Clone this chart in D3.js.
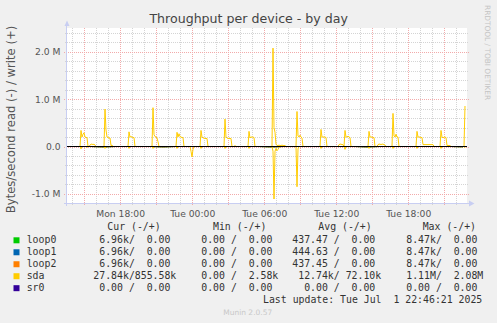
<!DOCTYPE html>
<html>
<head>
<meta charset="utf-8">
<script src="https://cdn.jsdelivr.net/npm/d3@7"></script>
<style>
  body { margin: 0; background: #f0f0f0; }
  svg { display: block; }
</style>
</head>
<body>
<svg id="chart" width="497" height="323"></svg>
<script>
// sda, one sample every 5 minutes, in M bytes/s (write is +, read is plotted as -)
var sdaWrite = [
  0,0,0,0,0,0,0,0,0,0,0,0,0,0,
  0.34,0.2,0.26,0.29,0.2,0.19,0.19,0,0,0.03,0.05,0.05,0.04,0.05,0.03,0,0,0,0,0,0,0,0,0,
  0.79,0.35,0.2,0.19,0.18,0.18,0.02,0.03,0,0,0,0,0,0,0,0,0,0,0,0,0,0,0,0,
  0.31,0.2,0.21,0.2,0.19,0.19,0,0,0,0,0,0,0,0,0,0,0,0,0,0,0,0,0,0,
  0.82,0.25,0.21,0.2,0.18,0.1,0,0,0,0,0,0,0,0,0,0,0,0,0,0,0,0,0,0,
  0.3,0.2,0.27,0.21,0.2,0.19,0.19,0,0,0,0,0,0,0,0,0,0,0,0,0,0,0,0,0,
  0.34,0.2,0.18,0.18,0.17,0.17,0.17,0,0,0,0,0,0,0,0,0,0,0,0,0,0,0,0,0,
  0.58,0.2,0.18,0.17,0.17,0.17,0.17,0,0,0,0.02,0,0,0,0,0,0,0,0,0,0,0,0,0,
  0.32,0.18,0.2,0.2,0.2,0.19,0,0,0,0,0,0,0,0,0,0,0,0,0,0,0,0,0,0,
  2.08,0.4,0.3,0.05,0.02,0.02,0.03,0.02,0.02,0.03,0.02,0.02,0.02,0,0,0,0,0,0,0,0,0,0,0,
  0.74,0.22,0.2,0.24,0.2,0.18,0,0,0,0,0,0,0,0,0,0,0,0,0,0,0,0,0,0,
  0.36,0.2,0.2,0.2,0.2,0.19,0,0,0,0,0,0,0,0,0,0,0,0,0.04,0.05,0.05,0.04,0.04,0,
  0.34,0.2,0.2,0.22,0.2,0.19,0,0,0,0,0,0,0,0,0,0,0,0,0,0,0,0,0,0,
  0.32,0.2,0.2,0.2,0.19,0.19,0,0,0,0.04,0.05,0.05,0.04,0.05,0.05,0.04,0.03,0,0,0,0,0,0,0,
  0.7,0.22,0.2,0.26,0.2,0.2,0,0,0,0,0,0,0,0,0,0,0,0,0,0,0,0,0,0,
  0.32,0.2,0.2,0.2,0.19,0.19,0.04,0.04,0.04,0.04,0.04,0.04,0.04,0.04,0.04,0.04,0.04,0,0,0,0,0,0,0,
  0.34,0.2,0.18,0.2,0.2,0.19,0.02,0.02,0.02,0.02,0,0,0,0,0,0,0,0,0,0,0,0,0,0,
  0.856,null
];
var sdaRead = [
  0,0,0,0,0,0,0,0,0,0,0,0,0,0,
  0.05,0,0,0,0,0,0.02,0,0,0,0,0,0,0,0,0,0,0,0,0,0,0,0,0,
  0.04,0,0,0,0,0,0,0,0,0,0,0,0,0,0,0,0,0,0,0,0,0,0,0,
  0.04,0,0,0,0,0,0,0,0,0,0,0,0,0,0,0,0,0,0,0,0,0,0,0,
  0.04,0,0,0,0,0,0,0,0,0,0,0,0,0,0,0,0,0,0,0,0,0,0,0,
  0.04,0,0,0,0,0,0,0,0,0,0,0,0,0,0.1,0.22,0.06,0,0,0,0,0,0,0,
  0.04,0,0,0,0,0,0,0,0,0,0,0,0,0,0,0,0,0,0,0,0,0,0,0,
  0.04,0,0,0,0,0,0,0,0,0,0,0,0,0,0,0,0,0,0,0,0,0,0,0,
  0.04,0,0,0,0,0,0,0,0,0,0,0,0,0,0,0,0,0,0,0,0,0,0,0,
  0.1,1.11,0.1,0.04,0.09,0.06,0.02,0,0,0,0,0,0,0,0,0,0,0,0,0,0,0,0,0,
  0.85,0.05,0,0,0,0,0,0,0,0,0,0,0,0,0,0,0,0,0,0,0,0,0,0,
  0.04,0,0,0,0,0,0,0,0,0,0,0,0,0,0,0,0,0,0,0,0,0,0,0,
  0.06,0,0,0,0,0,0,0,0,0,0,0,0,0,0,0,0,0,0,0,0,0,0,0,
  0.04,0,0,0,0,0,0,0,0,0,0,0,0,0,0,0,0,0,0,0,0,0,0,0,
  0.04,0,0,0,0,0,0,0,0,0,0,0,0,0,0,0,0,0,0,0,0,0,0,0,
  0.04,0,0,0,0,0,0,0,0,0,0,0,0,0,0,0,0,0,0,0,0,0,0,0,
  0.04,0,0,0,0,0,0,0,0,0,0,0,0,0,0,0,0,0,0,0,0,0,0,0,
  0.028,null
];
// loop devices, hourly, in k bytes/s read (write stays 0)
var loop0Read = [0,0,0,8.47,0,0,0,0,8.47,0,0,0,0,0,0,0,0,8.47,0,0,0,0,0,0,0,8.47,0,0,0,0,0,0,0,6.96];
var loop1Read = [0,0,0,8.47,0,0,0,0,8.47,0,0,0,0,0,0,0,0,8.47,0,0,0,0,0,0,0,8.47,0,0,0,0,0,0,0,6.96];
var loop2Read = [0,0,0,8.47,0,0,0,0,8.47,0,0,0,0,0,0,0,0,8.47,0,0,0,0,0,0,0,8.47,0,0,0,0,0,0,0,6.96];
var sr0Read   = [0,0,0,0,0,0,0,0,0,0,0,0,0,0,0,0,0,0,0,0,0,0,0,0,0,0,0,0,0,0,0,0,0,0];

var yTicks = [-1, 0, 1, 2];
var yTickLabels = ["-1.0 M", "0.0", "1.0 M", "2.0 M"];
var xTickTimes = [new Date(2025,5,30,18), new Date(2025,6,1,0), new Date(2025,6,1,6), new Date(2025,6,1,12), new Date(2025,6,1,18)];
var xTickLabels = ["Mon 18:00", "Tue 00:00", "Tue 06:00", "Tue 12:00", "Tue 18:00"];

var devices = ["loop0", "loop1", "loop2", "sda", "sr0"];
var colors = ["#00cc00", "#0066b3", "#ff8000", "#ffcc00", "#330099"];
// legend values in bytes/s: [read, write]
var curVals = [[6960,0],[6960,0],[6960,0],[27840,855580],[0,0]];
var minVals = [[0,0],[0,0],[0,0],[0,2580],[0,0]];
var avgVals = [[437.47,0],[444.63,0],[437.45,0],[12740,72100],[0,0]];
var maxVals = [[8470,0],[8470,0],[8470,0],[1110000,2080000],[0,0]];

var start = new Date(2025, 5, 30, 13, 34);
var end = new Date(2025, 6, 1, 22, 54);

var svg = d3.select("#chart");
var pLeft = 67, pRight = 467, pTop = 28, pBottom = 203;

var x = d3.scaleTime().domain([start, end]).range([pLeft, pRight]);
var y = d3.scaleLinear().domain([-1.194, 2.505]).range([pBottom, pTop]);

svg.append("rect").attr("width", 497).attr("height", 323).attr("fill", "#f0f0f0");
svg.append("rect").attr("x", pLeft).attr("y", pTop).attr("width", pRight - pLeft).attr("height", pBottom - pTop).attr("fill", "#fff");

// grid
var minorY = d3.range(-12, 26, 2).map(function(d){ return d / 10; }).filter(function(d){ return Math.abs(d % 1) > 0.01 && d > -1.19; });
svg.selectAll(".gy").data(minorY).enter().append("line")
  .attr("x1", pLeft - 2).attr("x2", pRight + 2)
  .attr("y1", function(d){ return Math.round(y(d)) + 0.5; }).attr("y2", function(d){ return Math.round(y(d)) + 0.5; })
  .attr("stroke", "#d4d4d4").attr("stroke-dasharray", "1,1");
var hours = d3.timeHour.range(start, end);
svg.selectAll(".gx").data(hours.filter(function(d){ return d.getHours() % 3 !== 0; })).enter().append("line")
  .attr("x1", function(d){ return Math.round(x(d)) + 0.5; }).attr("x2", function(d){ return Math.round(x(d)) + 0.5; })
  .attr("y1", pTop).attr("y2", pBottom + 2)
  .attr("stroke", "#d4d4d4").attr("stroke-dasharray", "1,1");
svg.selectAll(".mx").data(hours.filter(function(d){ return d.getHours() % 3 === 0; })).enter().append("line")
  .attr("x1", function(d){ return Math.round(x(d)) + 0.5; }).attr("x2", function(d){ return Math.round(x(d)) + 0.5; })
  .attr("y1", pTop).attr("y2", pBottom + 3)
  .attr("stroke", "#f2aaaa").attr("stroke-dasharray", "1,1");
svg.selectAll(".my").data(yTicks).enter().append("line")
  .attr("x1", pLeft - 3).attr("x2", pRight + 2)
  .attr("y1", function(d){ return Math.round(y(d)) + 0.5; }).attr("y2", function(d){ return Math.round(y(d)) + 0.5; })
  .attr("stroke", "#f2aaaa").attr("stroke-dasharray", "1,1");

// axes with arrows
var axisCol = "#c8cef2";
svg.append("line").attr("x1", pLeft - 0.5).attr("x2", pLeft - 0.5).attr("y1", pBottom + 3).attr("y2", pTop - 4).attr("stroke", axisCol);
svg.append("path").attr("d", "M64.5,26L67,20.5L69.5,26Z").attr("fill", axisCol);
svg.append("line").attr("x1", pLeft - 3).attr("x2", pRight + 3).attr("y1", pBottom + 0.5).attr("y2", pBottom + 0.5).attr("stroke", axisCol);
svg.append("path").attr("d", "M469,200.5L474.5,203.5L469,206.5Z").attr("fill", axisCol);

// series
var times = sdaWrite.map(function(d, i){ return d3.timeMinute.offset(start, 5 * i); });
var hourTimes = loop0Read.map(function(d, i){ return d3.timeHour.offset(start, i); });

var line = d3.line()
  .defined(function(d){ return d[1] !== null; })
  .x(function(d){ return x(d[0]); })
  .y(function(d){ return y(d[1]); });

function drawSeries(ts, vals, sign, scale, col) {
  var pts = vals.map(function(v, i){ return [ts[i], v === null ? null : sign * v * scale]; });
  svg.append("path").attr("d", line(pts)).attr("fill", "none").attr("stroke", col).attr("stroke-width", 1);
}
drawSeries(hourTimes, sr0Read, -1, 1, colors[4]);
drawSeries(hourTimes, loop0Read, -1, 0.001, colors[0]);
drawSeries(hourTimes, loop1Read, -1, 0.001, colors[1]);
drawSeries(hourTimes, loop2Read, -1, 0.001, colors[2]);
drawSeries(times, sdaRead, -1, 1, colors[3]);
drawSeries(times, sdaWrite, 1, 1, colors[3]);

// zero rule on top
svg.append("line").attr("x1", pLeft).attr("x2", pRight)
  .attr("y1", y(0)).attr("y2", y(0))
  .attr("stroke", "#000").attr("stroke-width", 1.2);

// labels
svg.selectAll(".yl").data(yTicks).enter().append("text")
  .attr("x", 60.5).attr("y", function(d){ return y(d) + 3.4; })
  .attr("text-anchor", "end").attr("font-family", "DejaVu Sans").attr("font-size", "9.2px").attr("fill", "#555")
  .text(function(d, i){ return yTickLabels[i]; });
svg.selectAll(".xl").data(xTickTimes).enter().append("text")
  .attr("x", function(d){ return x(d) + 0.5; }).attr("y", 216.5)
  .attr("text-anchor", "middle").attr("font-family", "DejaVu Sans").attr("font-size", "9.2px").attr("fill", "#555")
  .text(function(d, i){ return xTickLabels[i]; });

svg.append("text").attr("x", 248.7).attr("y", 22.5).attr("text-anchor", "middle")
  .attr("font-family", "DejaVu Sans").attr("font-size", "12.6px").attr("fill", "#444")
  .text("Throughput per device - by day");
svg.append("text").attr("transform", "translate(14.5,119.5) rotate(-90)").attr("text-anchor", "middle")
  .attr("font-family", "DejaVu Sans").attr("font-size", "11.6px").attr("fill", "#555")
  .text("Bytes/second read (-) / write (+)");
svg.append("text").attr("transform", "translate(484.8,5) rotate(90)")
  .attr("font-family", "DejaVu Sans").attr("font-size", "7.4px").attr("fill", "#c4c4c4")
  .text("RRDTOOL / TOBI OETIKER");

// legend
var fnum = d3.format(">6.2f");
function fmt(v) {
  if (v >= 1e6) return fnum(v / 1e6) + "M";
  if (v >= 1e3) return fnum(v / 1e3) + "k";
  return fnum(v) + " ";
}
function pair(p) { return fmt(p[0]) + "/" + fmt(p[1]); }

var mono = "DejaVu Sans Mono", lsize = "9.85px", lcol = "#333";
var headers = [["Cur (-/+)", 107.3], ["Min (-/+)", 213], ["Avg (-/+)", 318.3], ["Max (-/+)", 422.7]];
headers.forEach(function(h){
  svg.append("text").attr("x", h[1]).attr("y", 229.5).attr("font-family", mono).attr("font-size", lsize)
    .attr("fill", lcol).style("white-space", "pre").text(h[0]);
});
var colX = [87.4, 189.4, 292.3, 394.4];
var cols = [curVals, minVals, avgVals, maxVals];
devices.forEach(function(dev, r){
  var yb = 243.3 + r * 11.97;
  svg.append("rect").attr("x", 13.5).attr("y", yb - 6).attr("width", 6).attr("height", 6).attr("fill", colors[r]);
  svg.append("text").attr("x", 26.7).attr("y", yb).attr("font-family", mono).attr("font-size", lsize)
    .attr("fill", lcol).text(dev);
  cols.forEach(function(c, j){
    svg.append("text").attr("x", colX[j]).attr("y", yb).attr("font-family", mono).attr("font-size", lsize)
      .attr("fill", lcol).style("white-space", "pre").text(pair(c[r]));
  });
});
svg.append("text").attr("x", 482.3).attr("y", 303).attr("text-anchor", "end")
  .attr("font-family", mono).attr("font-size", lsize).attr("fill", lcol).style("white-space", "pre")
  .text("Last update: Tue Jul  1 22:46:21 2025");
svg.append("text").attr("x", 247.7).attr("y", 315).attr("text-anchor", "middle")
  .attr("font-family", "DejaVu Sans").attr("font-size", "7.5px").attr("fill", "#c8c8c8")
  .text("Munin 2.0.57");
</script>
</body>
</html>
